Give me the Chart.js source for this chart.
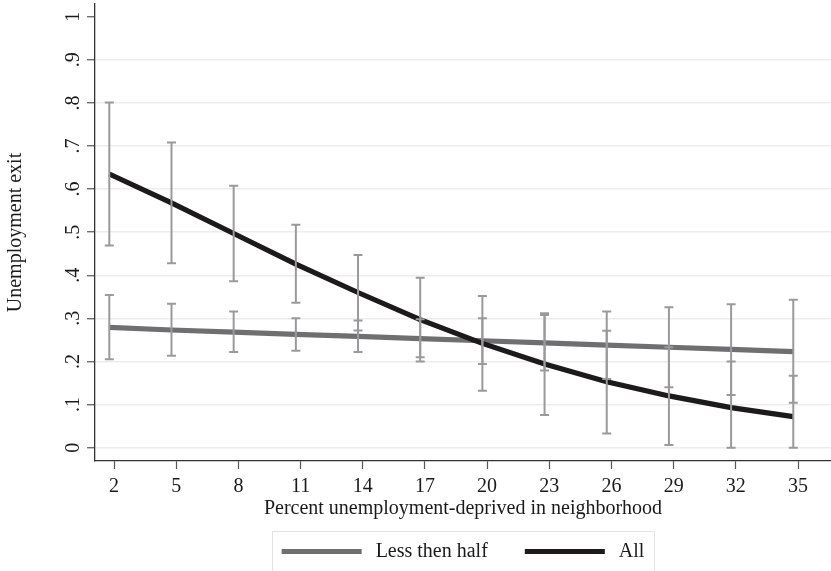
<!DOCTYPE html>
<html>
<head>
<meta charset="utf-8">
<script src="https://cdn.jsdelivr.net/npm/chart.js@4/dist/chart.umd.min.js"></script>
<style>
html,body{margin:0;padding:0;background:#fff;}
#wrap{width:831px;height:571px;}
</style>
</head>
<body>
<div id="wrap"><canvas id="c" width="831" height="571"></canvas></div>
<script>
// ---- data ----
const pctDeprived = [2, 5, 8, 11, 14, 17, 20, 23, 26, 29, 32, 35];
const lessThenHalf = [0.279, 0.273, 0.268, 0.263, 0.258, 0.253, 0.248, 0.243, 0.238, 0.233, 0.228, 0.223];
const lessUpper = [0.354, 0.334, 0.316, 0.300, 0.295, 0.298, 0.300, 0.308, 0.316, 0.326, 0.333, 0.343];
const lessLower = [0.205, 0.213, 0.222, 0.225, 0.222, 0.210, 0.194, 0.179, 0.159, 0.140, 0.122, 0.104];
const allSeries = [0.635, 0.568, 0.497, 0.426, 0.360, 0.297, 0.242, 0.194, 0.153, 0.120, 0.093, 0.072];
const allUpper = [0.801, 0.708, 0.608, 0.517, 0.447, 0.394, 0.352, 0.312, 0.271, 0.233, 0.200, 0.167];
const allLower = [0.469, 0.428, 0.386, 0.336, 0.272, 0.200, 0.132, 0.076, 0.033, 0.006, 0.000, 0.000];
const xTickValues = [2, 5, 8, 11, 14, 17, 20, 23, 26, 29, 32, 35];
const yTickValues = [0, 0.1, 0.2, 0.3, 0.4, 0.5, 0.6, 0.7, 0.8, 0.9, 1];
const seriesLabels = ['Less then half', 'All'];
const xTitle = 'Percent unemployment-deprived in neighborhood';
const yTitle = 'Unemployment exit';

const FONT = "'Liberation Serif', 'Times New Roman', serif";
const TXT = '#1a1a1a';
const LESS_COLOR = '#6f6f72';
const ALL_COLOR = '#1c1a1b';
const CI_COLOR = '#9a9a9d';

const toPts = (ys) => pctDeprived.map((x, i) => ({x: x, y: ys[i]}));

const errorBars = {
  id: 'errorBars',
  afterDatasetsDraw(chart) {
    const xs = chart.scales.xd, ys = chart.scales.y, ctx = chart.ctx;
    const sets = [[lessLower, lessUpper], [allLower, allUpper]];
    ctx.save();
    ctx.strokeStyle = CI_COLOR;
    ctx.lineWidth = 2;
    ctx.lineCap = 'butt';
    const cap = 4.5;
    sets.forEach(([lo, hi]) => {
      pctDeprived.forEach((xv, i) => {
        const px = xs.getPixelForValue(xv);
        const pt = ys.getPixelForValue(hi[i]);
        const pb = ys.getPixelForValue(lo[i]);
        ctx.beginPath();
        ctx.moveTo(px, pt); ctx.lineTo(px, pb);
        ctx.moveTo(px - cap, pt); ctx.lineTo(px + cap, pt);
        ctx.moveTo(px - cap, pb); ctx.lineTo(px + cap, pb);
        ctx.stroke();
      });
    });
    ctx.restore();
  }
};

const stataLegend = {
  id: 'stataLegend',
  afterDraw(chart) {
    const ctx = chart.ctx;
    const area = chart.chartArea;
    ctx.save();
    ctx.font = '20px ' + FONT;
    const ds = chart.data.datasets;
    const sample = 80, gapText = 14, gapItem = 37, padX = 9.5;
    const widths = ds.map(d => ctx.measureText(d.label).width);
    let total = 0;
    ds.forEach((d, i) => { total += sample + gapText + widths[i]; if (i < ds.length - 1) total += gapItem; });
    const cx = (area.left + area.right) / 2;
    let x = cx - total / 2;
    const cy = 551.5;
    ctx.strokeStyle = '#e2e2e2';
    ctx.lineWidth = 1;
    ctx.strokeRect(Math.round(x - padX) + 0.5, 531.5, Math.round(total + 2 * padX), 60);
    ds.forEach((d, i) => {
      ctx.strokeStyle = d.borderColor;
      ctx.lineWidth = 4.8;
      ctx.beginPath();
      ctx.moveTo(x, cy); ctx.lineTo(x + sample, cy);
      ctx.stroke();
      x += sample + gapText;
      ctx.fillStyle = TXT;
      ctx.textBaseline = 'middle';
      ctx.textAlign = 'left';
      ctx.fillText(d.label, x, cy);
      x += widths[i] + gapItem;
    });
    ctx.restore();
  }
};

new Chart(document.getElementById('c'), {
  type: 'line',
  data: {
    datasets: [
      {label: seriesLabels[0], data: toPts(lessThenHalf), borderColor: LESS_COLOR, backgroundColor: LESS_COLOR,
       borderWidth: 5.2, pointRadius: 0, tension: 0, xAxisID: 'xd', yAxisID: 'y', order: 1},
      {label: seriesLabels[1], data: toPts(allSeries), borderColor: ALL_COLOR, backgroundColor: ALL_COLOR,
       borderWidth: 5.2, pointRadius: 0, tension: 0, xAxisID: 'xd', yAxisID: 'y', order: 0}
    ]
  },
  options: {
    responsive: false,
    animation: false,
    devicePixelRatio: 1,
    layout: {padding: {top: 4, right: 0, left: 0, bottom: 44}},
    plugins: {legend: {display: false}, tooltip: {enabled: false}},
    scales: {
      x: {
        type: 'linear', position: 'bottom', min: 1.083, max: 36.59,
        afterBuildTicks: (s) => { s.ticks = xTickValues.map(v => ({value: v})); },
        afterFit: (s) => { s.height = 66; s.paddingLeft = 0; s.paddingRight = 0; },
        ticks: {font: {family: FONT, size: 20}, color: TXT, padding: 6, autoSkip: false, maxRotation: 0,
                callback: (v) => String(v)},
        grid: {drawOnChartArea: false, tickLength: 8, tickColor: '#555', tickWidth: 1.2},
        border: {color: '#333', width: 1.3},
        title: {display: true, text: xTitle, font: {family: FONT, size: 20}, color: TXT, padding: {top: 0, bottom: 6}}
      },
      xd: {
        type: 'linear', display: false, min: 1.31, max: 36.82
      },
      y: {
        type: 'linear', position: 'left', min: -0.031, max: 1.0295,
        afterBuildTicks: (s) => { s.ticks = yTickValues.map(v => ({value: v})); },
        afterFit: (s) => { s.width = 95; s.paddingTop = 0; s.paddingBottom = 0; },
        ticks: {font: {family: FONT, size: 20}, color: TXT, padding: 5.5, minRotation: 90, maxRotation: 90,
                crossAlign: 'center',
                callback: (v) => { const r = Math.round(v * 10); return r === 0 ? '0' : (r === 10 ? '1' : '.' + r); }},
        grid: {color: (c) => (c.tick && Math.round(c.tick.value * 10) === 10) ? 'rgba(0,0,0,0)' : '#ededed',
               lineWidth: 1.5, tickLength: 8, tickColor: '#555', tickWidth: 1.2},
        border: {color: '#333', width: 1.3},
        title: {display: true, text: yTitle, font: {family: FONT, size: 20}, color: TXT, padding: {top: 4, bottom: 0}}
      }
    }
  },
  plugins: [errorBars, stataLegend]
});
</script>
</body>
</html>
